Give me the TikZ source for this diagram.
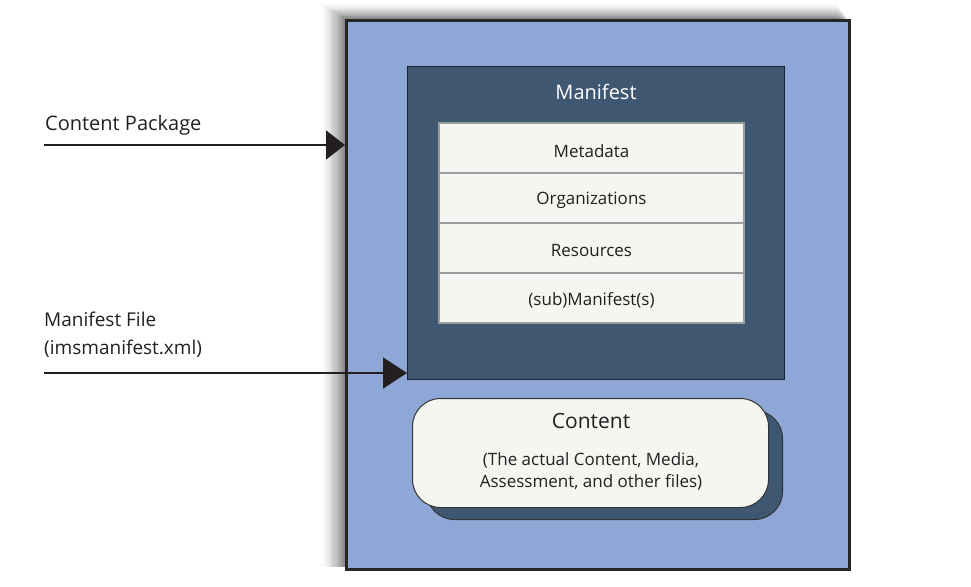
\documentclass[tikz,border=0pt]{standalone}
\usepackage{fontspec}
\setmainfont{Open Sans}
\usetikzlibrary{arrows.meta,positioning}
\definecolor{outerblue}{HTML}{8FA7D6}
\definecolor{mandark}{HTML}{405771}
\definecolor{rowfill}{HTML}{F4F6F1}
\definecolor{contfill}{HTML}{F5F6F2}
\definecolor{txt}{HTML}{231F20}
\definecolor{rowline}{HTML}{9A9C9E}
\tikzset{
  rowbox/.style={draw=rowline, line width=1.6pt, fill=rowfill, minimum width=305pt, minimum height=50pt, inner sep=0pt, anchor=north},
  rowtext/.style={font=\fontsize{17}{20}\selectfont, text=txt, yshift=-3pt},
  lbl/.style={anchor=west, inner sep=0pt, font=\fontsize{20}{24}\selectfont, text=txt, align=left},
  bigarrow/.style={line width=1.5pt, draw=txt}
}
\begin{document}
\begin{tikzpicture}[x=1pt,y=-1pt]
\useasboundingbox (0,0) rectangle (971,586);
% soft shadow of outer box
\foreach \i in {1,...,30}{
  \pgfmathsetmacro{\op}{0.04*(1-\i/31)}
  \fill[black, opacity=\op] (345-0.85*\i,19-0.55*\i) rectangle (848-0.4*\i,567);
}
\node[draw=black!85, line width=3pt, fill=outerblue, minimum width=503pt, minimum height=549pt, inner sep=0pt, anchor=north west] (outer) at (345,19) {};
% manifest
\node[draw=black!60!mandark, line width=1pt, fill=mandark, minimum width=377pt, minimum height=313pt, inner sep=0pt, anchor=north west] (manifest) at (407,66) {};
\node[text=white, font=\fontsize{20}{24}\selectfont] (mtitle) at (596,92) {Manifest};
\node[rowbox] (meta) at (591.5,122) {};
\node[rowbox] (org) at (591.5,172) {};
\node[rowbox] (res) at (591.5,222) {};
\node[rowbox] (sub) at (591.5,272) {};
\node[rowtext] (metaT) at (meta.center) {Metadata};
\node[rowtext] (orgT) at (org.center) {Organizations};
\node[rowtext] (resT) at (res.center) {Resources};
\node[rowtext] (subT) at (sub.center) {(sub)Manifest(s)};
% content
\node[draw=black!80, line width=1pt, fill=mandark, rounded corners=28pt, minimum width=356pt, minimum height=109pt, anchor=north west] (cshadow) at (426,410) {};
\node[draw=black!80, line width=1pt, fill=contfill, rounded corners=28pt, minimum width=356pt, minimum height=109pt, anchor=north west] (content) at (412,398) {};
\node[text=txt, font=\fontsize{21}{25}\selectfont] (ctitle) at (591,421) {Content};
\node[text=txt, font=\fontsize{17}{22}\selectfont, align=center] (ctext) at (591,471) {(The actual Content, Media,\\Assessment, and other files)};
% labels
\node[lbl] (pkg) at (45,125) {Content Package};
\node[lbl, font=\fontsize{19}{28}\selectfont] (mfile) at (44,335) {Manifest File\\(imsmanifest.xml)};
\coordinate (a1) at (44,145);
\coordinate (a2) at (44,373);
\draw[bigarrow, -{Triangle[length=19pt,width=29pt]}] (a1) -- (a1 -| outer.west);
\draw[bigarrow, -{Triangle[length=24pt,width=31pt]}] (a2) -- (a2 -| manifest.west);
\end{tikzpicture}
\end{document}
